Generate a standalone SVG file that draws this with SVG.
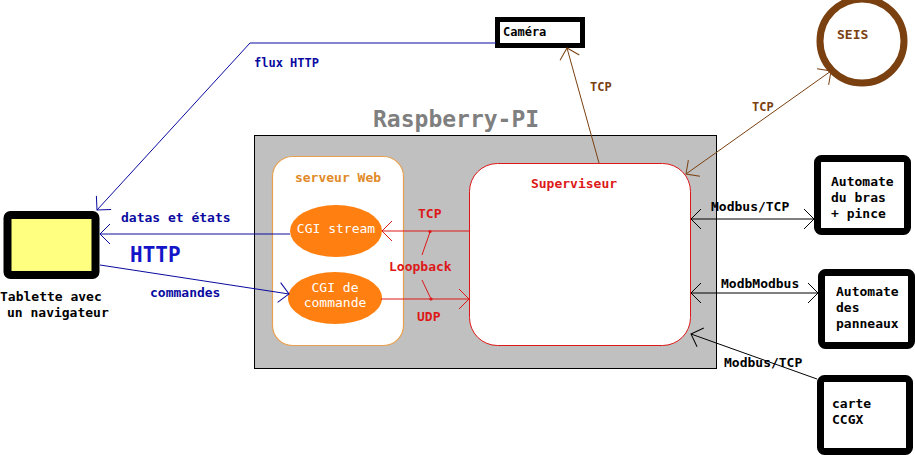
<svg xmlns="http://www.w3.org/2000/svg" width="915" height="455" viewBox="0 0 915 455">
<style>
text{font-family:"DejaVu Sans Mono","Liberation Mono",monospace;font-weight:bold;font-size:13px}
.blk{fill:#000}
.blue{fill:#0a0aa0}
.red{fill:#dd1818}
.brown{fill:#7a4010}
.box{fill:#fff;stroke:#000;stroke-width:7}
.ln{fill:none;stroke-width:1}
.lb{stroke:#0a0aa0}
.lr{stroke:#dd1818}
.lbr{stroke:#7a4010}
.lk{stroke:#000}
</style>
<defs>
<marker id="aB" viewBox="-12 -12 24 24" refX="0" refY="0" markerWidth="24" markerHeight="24" markerUnits="userSpaceOnUse" orient="auto-start-reverse"><path d="M-10,-10 L0,0 L-10,10" fill="none" stroke="#0a0aa0" stroke-width="1"/></marker>
<marker id="aR" viewBox="-12 -12 24 24" refX="0" refY="0" markerWidth="24" markerHeight="24" markerUnits="userSpaceOnUse" orient="auto-start-reverse"><path d="M-10,-10 L0,0 L-10,10" fill="none" stroke="#dd1818" stroke-width="1"/></marker>
<marker id="aN" viewBox="-12 -12 24 24" refX="0" refY="0" markerWidth="24" markerHeight="24" markerUnits="userSpaceOnUse" orient="auto-start-reverse"><path d="M-10,-10 L0,0 L-10,10" fill="none" stroke="#7a4010" stroke-width="1"/></marker>
<marker id="aK" viewBox="-12 -12 24 24" refX="0" refY="0" markerWidth="24" markerHeight="24" markerUnits="userSpaceOnUse" orient="auto-start-reverse"><path d="M-10,-10 L0,0 L-10,10" fill="none" stroke="#000" stroke-width="1"/></marker>
</defs>
<rect width="915" height="455" fill="#fff"/>

<g id="raspberry">
<rect x="254.5" y="135.5" width="462" height="233" fill="#c0c0c0" stroke="#000" stroke-width="1"/>
<text x="373" y="127" style="font-size:23px;fill:#7f7f7f">Raspberry-PI</text>
</g>

<g id="serveur-web">
<rect x="272.5" y="156.5" width="131" height="189" rx="20" fill="#fff" stroke="#e8a050" stroke-width="1.2"/>
<text x="338" y="182" text-anchor="middle" style="fill:#e08a28">serveur Web</text>
</g>

<g id="cgi-stream">
<ellipse cx="336" cy="231" rx="46" ry="26" fill="#ff8010"/>
<text x="336" y="233" text-anchor="middle" style="fill:#fff;font-weight:normal">CGI stream</text>
</g>

<g id="cgi-commande">
<ellipse cx="335" cy="298" rx="47" ry="26" fill="#ff8010"/>
<text x="335" y="292" text-anchor="middle" style="fill:#fff;font-weight:normal">CGI de</text>
<text x="335" y="307" text-anchor="middle" style="fill:#fff;font-weight:normal">commande</text>
</g>

<g id="superviseur">
<rect x="469.5" y="163.5" width="221" height="182" rx="28" fill="#fff" stroke="#dd1818" stroke-width="1"/>
<text x="574" y="188" text-anchor="middle" class="red">Superviseur</text>
</g>

<g id="tablette">
<rect x="7.5" y="215" width="88" height="60" rx="3" fill="#ffff80" stroke="#000" stroke-width="8"/>
<text x="0" y="301" class="blk">Tablette avec</text>
<text x="7" y="317" class="blk">un navigateur</text>
</g>

<g id="camera">
<rect x="497.5" y="19.5" width="85" height="26" fill="#fff" stroke="#000" stroke-width="5"/>
<text x="503" y="36" class="blk" style="font-size:12px">Caméra</text>
</g>

<g id="seis">
<circle cx="862" cy="41" r="42" fill="#fff" stroke="#7a4010" stroke-width="7"/>
<text x="837" y="39" class="brown">SEIS</text>
</g>

<g id="automate-bras">
<rect x="817.5" y="158.5" width="90" height="73" rx="4" class="box"/>
<text x="831" y="186" class="blk">Automate</text>
<text x="831" y="202" class="blk">du bras</text>
<text x="831" y="218" class="blk">+ pince</text>
</g>

<g id="automate-panneaux">
<rect x="821.5" y="272.5" width="90" height="73" rx="4" class="box"/>
<text x="836" y="296" class="blk">Automate</text>
<text x="836" y="312" class="blk">des</text>
<text x="836" y="328" class="blk">panneaux</text>
</g>

<g id="carte-ccgx">
<rect x="820.5" y="378.5" width="89" height="73" rx="4" class="box"/>
<text x="832" y="408" class="blk">carte</text>
<text x="832" y="424" class="blk">CCGX</text>
</g>

<g id="connectors">
<polyline points="496,43 250,43 97,210" class="ln lb" marker-end="url(#aB)"/>
<text x="254" y="67" class="blue" style="font-size:12px">flux HTTP</text>
<line x1="290" y1="234" x2="100" y2="234" class="ln lb" marker-end="url(#aB)"/>
<text x="121" y="222" class="blue">datas et états</text>
<line x1="100" y1="265" x2="289" y2="294" class="ln lb" marker-end="url(#aB)"/>
<text x="130" y="262" style="font-size:21px;fill:#1414c8">HTTP</text>
<text x="150" y="297" class="blue">commandes</text>

<line x1="469" y1="231" x2="382" y2="231" class="ln lr" marker-end="url(#aR)"/>
<line x1="381" y1="299" x2="469" y2="299" class="ln lr" marker-end="url(#aR)"/>
<line x1="422" y1="255" x2="430" y2="232" class="ln lr"/>
<line x1="422" y1="280" x2="431" y2="299" class="ln lr"/>
<circle cx="430" cy="231.5" r="1.6" fill="#dd1818"/>
<circle cx="431" cy="299" r="1.6" fill="#dd1818"/>
<text x="418" y="218" class="red">TCP</text>
<text x="389" y="271" class="red">Loopback</text>
<text x="417" y="321" class="red">UDP</text>

<line x1="599" y1="163" x2="567" y2="48" class="ln lbr" marker-end="url(#aN)"/>
<text x="590" y="91" class="brown" style="font-size:12px">TCP</text>
<line x1="686" y1="174" x2="831" y2="71" class="ln lbr" marker-start="url(#aN)" marker-end="url(#aN)"/>
<text x="752" y="111" class="brown" style="font-size:12px">TCP</text>

<line x1="691" y1="219" x2="814" y2="219" class="ln lk" marker-start="url(#aK)" marker-end="url(#aK)"/>
<text x="711" y="211" class="blk">Modbus/TCP</text>
<line x1="691" y1="293" x2="818" y2="293" class="ln lk" marker-start="url(#aK)" marker-end="url(#aK)"/>
<text x="721" y="288" class="blk">ModbModbus</text>
<line x1="817" y1="379" x2="691" y2="334" class="ln lk" marker-end="url(#aK)"/>
<text x="724" y="367" class="blk">Modbus/TCP</text>
</g>
</svg>
